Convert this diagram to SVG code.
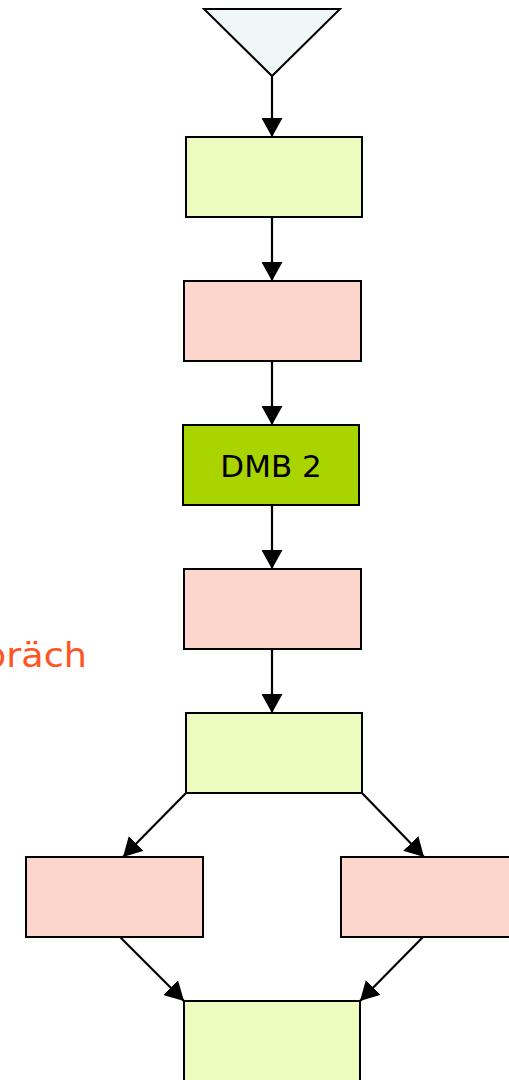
<svg xmlns="http://www.w3.org/2000/svg" width="509" height="1080" viewBox="0 0 509 1080">
<style>
.n{stroke:#000;stroke-width:2}
.g{fill:#ecfcbe}
.p{fill:#fcd5cd}
.c{stroke:#000;stroke-width:2.2;fill:none;marker-end:url(#ah)}
.t{font-family:"DejaVu Sans",Verdana,sans-serif}
</style>
<defs>
<marker id="ah" markerWidth="19" markerHeight="21" refX="19" refY="10.5" orient="auto" markerUnits="userSpaceOnUse" viewBox="0 0 19 21">
<path d="M0,0 L19,10.5 L0,21 z" fill="#000"/>
</marker>
</defs>
<rect width="509" height="1080" fill="#fff"/>
<text class="t" x="-17" y="667" font-size="33" fill="#ff5522" textLength="104" lengthAdjust="spacingAndGlyphs">präch</text>
<g id="start"><polygon class="n" points="204,9 340,9 272,76" fill="#eff7f9"/></g>
<g id="n1"><rect class="n g" x="186" y="137" width="176" height="80"/></g>
<g id="n2"><rect class="n p" x="184" y="281" width="177" height="80"/></g>
<g id="n3"><rect class="n" x="183" y="425" width="176" height="80" fill="#aad400"/><text class="t" x="271" y="477" font-size="31" text-anchor="middle" fill="#000">DMB 2</text></g>
<g id="n4"><rect class="n p" x="184" y="569" width="177" height="80"/></g>
<g id="n5"><rect class="n g" x="186" y="713" width="176" height="80"/></g>
<g id="n6"><rect class="n p" x="26" y="857" width="177" height="80"/></g>
<g id="n7"><rect class="n p" x="341" y="857" width="177" height="80"/></g>
<g id="n8"><rect class="n g" x="184" y="1001" width="176" height="90"/></g>
<g id="connectors">
<line class="c" x1="272" y1="76" x2="272" y2="137"/>
<line class="c" x1="272" y1="217" x2="272" y2="281"/>
<line class="c" x1="272" y1="361" x2="272" y2="425"/>
<line class="c" x1="272" y1="505" x2="272" y2="569"/>
<line class="c" x1="272" y1="649" x2="272" y2="713"/>
<line class="c" x1="186" y1="793" x2="123" y2="857"/>
<line class="c" x1="362" y1="793" x2="424" y2="857"/>
<line class="c" x1="120" y1="937" x2="184" y2="1001"/>
<line class="c" x1="423" y1="937" x2="360" y2="1001"/>
</g>
</svg>
